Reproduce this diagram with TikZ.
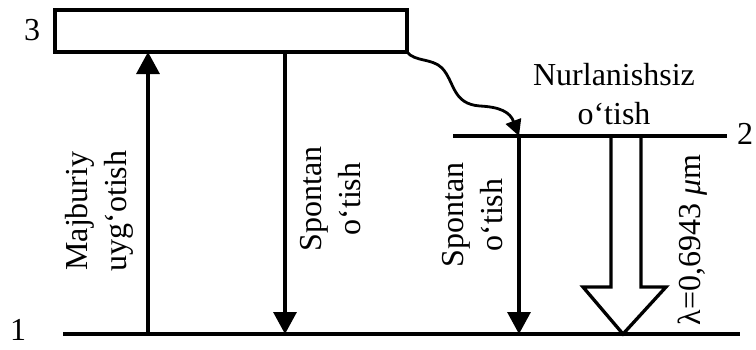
\documentclass[tikz,border=0pt]{standalone}
\usepackage{fontspec}
\setmainfont{Liberation Serif}
\usetikzlibrary{arrows.meta}

\begin{document}
\begin{tikzpicture}[x=1pt, y=-1pt, line width=3.3pt, line join=miter,
  lbl/.style={font=\fontsize{32}{39}\selectfont, align=center, inner sep=0pt},
  vlbl/.style={lbl, rotate=90},
  tipbig/.style={-{Triangle[width=23pt,length=22pt]}},
  tipsmall/.style={-{Triangle[width=16pt,length=16pt]}}]
\useasboundingbox (0,0) rectangle (756,349);
% levels
\coordinate (L3a) at (55,10); \coordinate (L3b) at (407,52);
\coordinate (L2a) at (453,136); \coordinate (L2b) at (727,136);
\coordinate (L1a) at (63,334); \coordinate (L1b) at (740,334);
\draw (L3a) rectangle (L3b);
\draw (L2a) -- (L2b); \draw (L1a) -- (L1b);
\node[lbl] (n3) at (32,30) {3}; \node[lbl] (n2) at (745,134) {2}; \node[lbl] (n1) at (18,330) {1};
% transitions
\coordinate (up1) at (148,334); \coordinate (up3) at (148,52);
\coordinate (sp3) at (285,52); \coordinate (sp1) at (285,334);
\coordinate (s2) at (519,136); \coordinate (s1) at (519,334);
\draw[tipbig] (up1) -- (up3);
\draw[tipbig] (sp3) -- (sp1);
\draw[tipbig] (s2) -- (s1);
\draw[tipsmall, line width=2.8pt] (L3b) .. controls (415,62) and (432,58) .. (442,68) .. controls (455,82) and (452,104) .. (480,106) .. controls (500,107) and (510,112) .. (s2);
\draw (611,136) -- (611,287) -- (583,287) -- (623,334) -- (666,287) -- (641,287) -- (641,136);
% labels
\node[vlbl] (maj) at (99,211) {Majburiy\\uyg‘otish};
\node[vlbl] (spA) at (331,199) {Spontan\\o‘tish};
\node[vlbl] (spB) at (473,215) {Spontan\\o‘tish};
\node[lbl] (nur) at (614,94) {Nurlanishsiz\\o‘tish};
\node[vlbl] (lam) at (693,240) {λ=0,6943 \textit{μ}m};
\end{tikzpicture}
\end{document}
